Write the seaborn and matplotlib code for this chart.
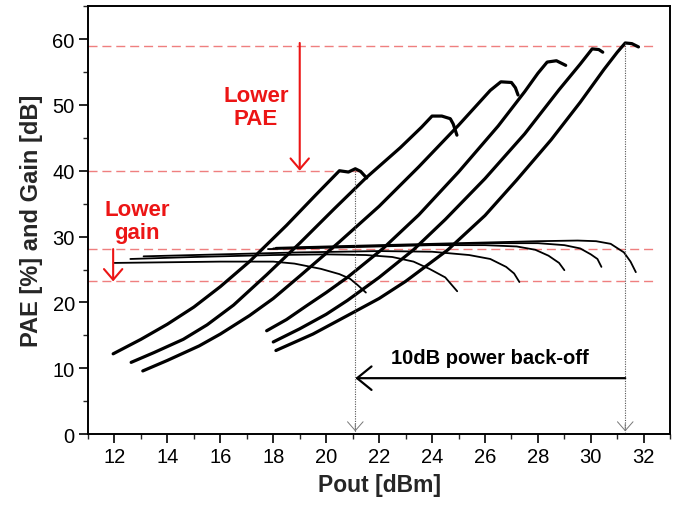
import numpy as np
import pandas as pd
import seaborn as sns
import matplotlib
matplotlib.use("Agg")
import matplotlib.pyplot as plt

# DATA

pae1_x = [11.95, 13.0, 14.0, 15.0, 16.0, 17.1, 18.5, 19.6, 20.5, 20.84, 21.1, 21.3, 21.53]
pae1_y = [12.2, 14.4, 16.7, 19.3, 22.4, 26.2, 31.7, 36.3, 40.0, 39.8, 40.3, 39.9, 38.9]

pae2_x = [12.63, 13.5, 14.6, 15.5, 16.5, 17.75, 19.0, 20.3, 21.5, 22.8, 23.6, 24.0, 24.37, 24.69, 24.8, 24.94]
pae2_y = [10.9, 12.4, 14.4, 16.6, 19.6, 24.2, 29.0, 34.2, 38.9, 43.5, 46.6, 48.3, 48.3, 47.9, 47.1, 45.4]

pae3_x = [13.07, 14.0, 15.2, 16.0, 17.1, 18.0, 19.0, 20.5, 22.0, 23.5, 25.0, 26.2, 26.6, 27.0, 27.15, 27.25]
pae3_y = [9.6, 11.2, 13.4, 15.2, 18.0, 20.6, 24.0, 29.2, 34.6, 40.6, 46.9, 52.2, 53.5, 53.4, 52.6, 51.5]

pae4_x = [17.75, 18.5, 19.26, 20.0, 20.8, 22.15, 23.5, 25.0, 26.5, 27.5, 28.0, 28.35, 28.7, 29.05]
pae4_y = [15.7, 17.4, 19.5, 21.5, 23.8, 28.2, 33.3, 39.8, 46.8, 52.0, 54.8, 56.5, 56.7, 56.0]

pae5_x = [18.0, 19.0, 20.0, 20.8, 22.0, 23.3, 24.5, 26.0, 27.5, 28.8, 29.6, 30.05, 30.3, 30.45]
pae5_y = [14.0, 16.0, 18.2, 20.3, 23.8, 28.0, 32.6, 38.8, 45.6, 52.3, 56.2, 58.5, 58.4, 58.0]

pae6_x = [18.1, 19.5, 20.8, 22.0, 23.0, 24.6, 26.0, 27.2, 28.5, 29.6, 30.5, 31.0, 31.3, 31.55, 31.8]
pae6_y = [12.7, 15.2, 18.0, 20.6, 23.2, 28.0, 33.2, 38.6, 44.7, 50.4, 55.4, 58.0, 59.4, 59.3, 58.8]

gain1_x = [12.0, 14.0, 16.0, 18.0, 18.8, 19.8, 20.5, 20.9, 21.2, 21.5]
gain1_y = [26.0, 26.1, 26.2, 26.2, 25.9, 25.1, 24.3, 23.6, 22.6, 21.5]

gain2_x = [12.6, 15.0, 18.0, 20.0, 21.5, 22.5, 23.3, 23.9, 24.5, 24.95]
gain2_y = [26.6, 26.9, 27.2, 27.3, 27.2, 26.9, 26.2, 25.1, 23.8, 21.7]

gain3_x = [13.1, 16.0, 19.0, 22.0, 24.0, 25.4, 26.2, 26.8, 27.1, 27.3]
gain3_y = [27.0, 27.3, 27.6, 27.8, 27.7, 27.2, 26.6, 25.4, 24.4, 23.1]

gain4_x = [17.8, 20.0, 22.0, 24.0, 26.0, 27.2, 27.9, 28.4, 28.8, 29.0]
gain4_y = [28.1, 28.3, 28.5, 28.7, 28.7, 28.5, 28.0, 27.1, 26.0, 24.9]

gain5_x = [18.0, 20.0, 22.0, 24.0, 26.0, 28.0, 29.0, 29.6, 30.0, 30.25, 30.4]
gain5_y = [28.2, 28.4, 28.6, 28.8, 29.0, 29.0, 28.7, 28.2, 27.3, 26.6, 25.4]

gain6_x = [18.1, 20.0, 22.0, 24.0, 26.0, 28.0, 29.5, 30.2, 30.75, 31.25, 31.5, 31.7]
gain6_y = [28.3, 28.5, 28.7, 28.9, 29.1, 29.3, 29.4, 29.3, 28.9, 27.6, 26.2, 24.6]

pae_levels = [59.0, 40.0]
gain_levels = [28.1, 23.2]
backoff_x = [21.1, 31.3]

x_ticks = list(range(12, 33, 2))
y_ticks = list(range(0, 61, 10))


def long_table(curves, name):
    rows = []
    for i, (xs, ys) in enumerate(curves):
        for xv, yv in zip(xs, ys):
            rows.append({"pout": xv, "val": yv, "curve": f"{name}{i}"})
    return pd.DataFrame(rows)


pae_df = long_table([(pae1_x, pae1_y), (pae2_x, pae2_y), (pae3_x, pae3_y),
                     (pae4_x, pae4_y), (pae5_x, pae5_y), (pae6_x, pae6_y)], "pae")
gain_df = long_table([(gain1_x, gain1_y), (gain2_x, gain2_y), (gain3_x, gain3_y),
                      (gain4_x, gain4_y), (gain5_x, gain5_y), (gain6_x, gain6_y)], "gain")

# PLOT

sns.set_style("white")
plt.rcParams["font.family"] = ["Liberation Sans", "DejaVu Sans"]

fig = plt.figure(figsize=(6.77, 5.06), dpi=100)
ax = fig.add_axes([0.130, 0.140, 0.860, 0.846])

red = "#ec1515"
dash_red = "#ef7f7f"

# reference levels
ax.hlines(pae_levels[0], 11, 32.4, colors=dash_red, lw=1.0, linestyles=(0, (6.5, 3.5)))
ax.hlines(pae_levels[1], 11, 21.5, colors=dash_red, lw=1.0, linestyles=(0, (6.5, 3.5)))
for g in gain_levels:
    ax.hlines(g, 11, 32.4, colors=dash_red, lw=1.0, linestyles=(0, (6.5, 3.5)))

sns.lineplot(data=gain_df, x="pout", y="val", units="curve", estimator=None,
             sort=False, color="black", lw=1.3, legend=False, ax=ax)
sns.lineplot(data=pae_df, x="pout", y="val", units="curve", estimator=None,
             sort=False, color="black", lw=2.3, legend=False, ax=ax)

# dotted drop lines
for bx, top in zip(backoff_x, [40.0, 59.4]):
    ax.plot([bx, bx], [top, 0.3], color="#555555", lw=0.8, ls=(0, (1, 1.2)))
    ax.annotate("", xy=(bx, 0.0), xytext=(bx, 2.0),
                arrowprops=dict(arrowstyle="->,head_length=0.8,head_width=0.7",
                                color="#777777", lw=0.7, mutation_scale=8))

# red arrows
ax.annotate("", xy=(19.0, pae_levels[1]), xytext=(19.0, pae_levels[0] + 0.4),
            arrowprops=dict(arrowstyle="->,head_length=0.7,head_width=0.6",
                            color=red, lw=1.5, mutation_scale=11,
                            shrinkA=0, shrinkB=0))
ax.annotate("", xy=(11.95, gain_levels[1]), xytext=(11.95, gain_levels[0]),
            arrowprops=dict(arrowstyle="->,head_length=0.7,head_width=0.6",
                            color=red, lw=1.5, mutation_scale=11,
                            shrinkA=0, shrinkB=0))

# back-off arrow
ax.annotate("", xy=(backoff_x[0], 8.5), xytext=(backoff_x[1], 8.5),
            arrowprops=dict(arrowstyle="->,head_length=0.8,head_width=0.65",
                            color="black", lw=1.6, mutation_scale=13,
                            shrinkA=0, shrinkB=0))

ax.text(17.34, 49.7, "Lower\nPAE", color=red, fontsize=16, fontweight="bold",
        ha="center", va="center", linespacing=1.15)
ax.text(12.85, 32.4, "Lower\ngain", color=red, fontsize=16, fontweight="bold",
        ha="center", va="center", linespacing=1.15)
ax.text(26.17, 11.6, "10dB power back-off", color="black", fontsize=14.5,
        fontweight="bold", ha="center", va="center")

ax.set_xlim(11, 33)
ax.set_ylim(0, 65)
ax.set_xticks(x_ticks)
ax.set_yticks(y_ticks)
ax.set_xticks(np.arange(11, 34, 1), minor=True)
ax.set_yticks(np.arange(0, 66, 5), minor=True)
ax.tick_params(axis="both", which="major", direction="out", length=6.5, width=1.2,
               labelsize=14.5, colors="black", pad=3)
ax.tick_params(axis="both", which="minor", direction="out", length=3.5, width=1.0)
ax.tick_params(bottom=True, left=True, top=False, right=False)
ax.tick_params(which="minor", bottom=True, left=True, top=False, right=False)

for s in ax.spines.values():
    s.set_color("black")
    s.set_linewidth(1.4)

ax.set_xlabel("Pout [dBm]", fontsize=16.5, fontweight="bold", labelpad=5)
ax.set_ylabel("PAE [%] and Gain [dB]", fontsize=17, fontweight="bold", labelpad=7)
ax.grid(False)

plt.savefig("out.png", dpi=100, facecolor="white")
plt.close()
